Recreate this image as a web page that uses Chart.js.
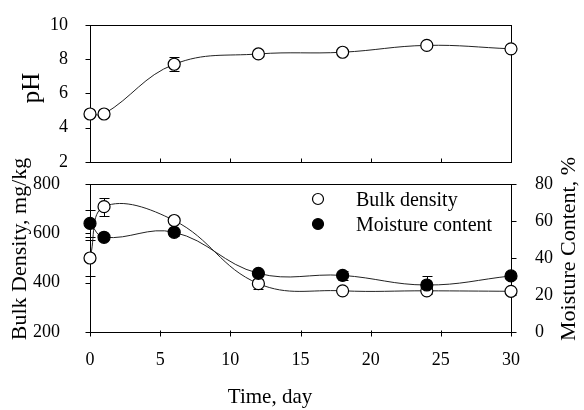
<!DOCTYPE html>
<html>
<head>
<meta charset="utf-8">
<script src="https://cdn.jsdelivr.net/npm/chart.js@4.4.1/dist/chart.umd.min.js"></script>
<style>
  html, body { margin: 0; padding: 0; background: #fff; }
  #painel { position: relative; width: 584px; height: 410px; }
  #painel canvas { position: absolute; left: 0; top: 0; }
</style>
</head>
<body>
<div id="painel">
  <canvas id="chartPH" width="584" height="410"></canvas>
  <canvas id="chartBD" width="584" height="410"></canvas>
</div>
<script>
// Dias de amostragem
const dias = [0, 1, 6, 12, 18, 24, 30];
// pH e desvio
const ph = [4.8, 4.8, 7.7, 8.3, 8.4, 8.8, 8.6];
const phErro = [0, 0, 0.4, 0, 0, 0, 0];
// Densidade aparente (mg/kg) e desvio
const densidade = [500, 708, 652, 396, 367, 367, 365];
const densidadeErro = [73, 36, 0, 20, 0, 10, 0];
// Teor de umidade (%) e desvio
const umidade = [58.7, 51.2, 53.9, 31.7, 30.6, 25.4, 30.3];
const umidadeErro = [7.3, 0, 2, 0, 2.5, 5, 0];
// Marcas dos eixos
const ticksTempo = [0, 5, 10, 15, 20, 25, 30];
const ticksPh = [2, 4, 6, 8, 10];
const ticksDensidade = [200, 400, 600, 800];
const ticksUmidade = [0, 20, 40, 60, 80];

Chart.defaults.font.family = "'Liberation Serif', 'Times New Roman', serif";
Chart.defaults.color = '#000';

const pontos = (ys) => dias.map((d, i) => ({ x: d, y: ys[i] }));
const fixarTicks = (lista) => (scale) => {
  scale.ticks = lista.map((v) => ({ value: v }));
};
const fonteTick = { size: 18 };

// Moldura do painel e marcas dos eixos (antes dos pontos)
const molduraPlugin = {
  id: 'moldura',
  beforeDatasetsDraw(chart, args, opts) {
    const { ctx, chartArea: a } = chart;
    const L = Math.round(a.left) + 0.5, R = Math.round(a.right) + 0.5;
    const T = Math.round(a.top) + 0.5, B = Math.round(a.bottom) + 0.5;
    ctx.save();
    ctx.strokeStyle = '#000';
    ctx.lineWidth = 1;
    ctx.strokeRect(L, T, R - L, B - T);
    (opts.marcas || []).forEach((m) => {
      const scale = chart.scales[m.eixo];
      scale.ticks.forEach((t) => {
        const p = Math.round(scale.getPixelForValue(t.value)) + 0.5;
        ctx.beginPath();
        if (scale.isHorizontal()) {
          ctx.moveTo(p, B - m.dentro);
          ctx.lineTo(p, B + m.fora);
        } else if (scale.position === 'left') {
          ctx.moveTo(L - m.fora, p);
          ctx.lineTo(L + m.dentro, p);
        } else {
          ctx.moveTo(R - m.dentro, p);
          ctx.lineTo(R + m.fora, p);
        }
        ctx.stroke();
      });
    });
    ctx.restore();
  }
};

// Barras de erro verticais com base no campo "erros" de cada dataset
const barrasErroPlugin = {
  id: 'barrasErro',
  beforeDatasetsDraw(chart) {
    const ctx = chart.ctx;
    ctx.save();
    ctx.strokeStyle = '#000';
    ctx.lineWidth = 1;
    chart.data.datasets.forEach((ds, i) => {
      if (!ds.erros) return;
      const meta = chart.getDatasetMeta(i);
      const escalaY = chart.scales[meta.yAxisID];
      meta.data.forEach((pt, j) => {
        const e = ds.erros[j];
        if (!e) return;
        const v = ds.data[j].y;
        const y1 = Math.round(escalaY.getPixelForValue(v + e)) + 0.5;
        const y2 = Math.round(escalaY.getPixelForValue(v - e)) + 0.5;
        const x = Math.round(pt.x) + 0.5;
        ctx.beginPath();
        ctx.moveTo(x, y1); ctx.lineTo(x, y2);
        ctx.moveTo(x - 5, y1); ctx.lineTo(x + 5, y1);
        ctx.moveTo(x - 5, y2); ctx.lineTo(x + 5, y2);
        ctx.stroke();
      });
    });
    ctx.restore();
  }
};

// Títulos dos eixos desenhados à mão (o da direita também gira -90°)
const titulosPlugin = {
  id: 'titulos',
  afterDraw(chart, args, opts) {
    const ctx = chart.ctx;
    (opts.textos || []).forEach((t) => {
      ctx.save();
      ctx.font = `${t.tamanho}px 'Liberation Serif', 'Times New Roman', serif`;
      ctx.fillStyle = '#000';
      ctx.textAlign = 'center';
      ctx.textBaseline = 'alphabetic';
      ctx.translate(t.x, t.y);
      if (t.girar) ctx.rotate(-Math.PI / 2);
      ctx.fillText(t.texto, 0, 0);
      ctx.restore();
    });
  }
};

// Legenda dentro da área do gráfico
const legendaPlugin = {
  id: 'legendaInterna',
  afterDraw(chart, args, opts) {
    if (!opts.itens) return;
    const ctx = chart.ctx;
    ctx.save();
    ctx.font = "20px 'Liberation Serif', 'Times New Roman', serif";
    ctx.textBaseline = 'alphabetic';
    ctx.textAlign = 'left';
    opts.itens.forEach((it) => {
      const ds = chart.data.datasets[it.dataset];
      ctx.beginPath();
      ctx.arc(opts.x, it.y, 5.5, 0, Math.PI * 2);
      ctx.fillStyle = ds.pointBackgroundColor;
      ctx.fill();
      ctx.lineWidth = 1.2;
      ctx.strokeStyle = ds.pointBorderColor;
      ctx.stroke();
      ctx.fillStyle = '#000';
      ctx.fillText(ds.label, opts.xTexto, it.y + 6.5);
    });
    ctx.restore();
  }
};

const estiloSerie = (aberto) => ({
  borderColor: '#222',
  borderWidth: 1,
  tension: 0.4,
  clip: false,
  pointRadius: 6,
  pointBackgroundColor: aberto ? '#fff' : '#000',
  pointBorderColor: '#000',
  pointBorderWidth: 1.2
});

const semGrade = { display: false };
const semBorda = { display: false };

// Painel superior: pH
new Chart(document.getElementById('chartPH'), {
  type: 'line',
  data: {
    datasets: [
      Object.assign({ label: 'pH', data: pontos(ph), erros: phErro }, estiloSerie(true))
    ]
  },
  options: {
    responsive: false,
    animation: false,
    events: [],
    layout: { autoPadding: false, padding: { left: 0, top: 15, right: 73, bottom: 248 } },
    plugins: {
      legend: { display: false },
      tooltip: { enabled: false },
      moldura: { marcas: [{ eixo: 'x', dentro: 4, fora: 0 }, { eixo: 'y', dentro: 0, fora: 5 }] },
      titulos: { textos: [{ texto: 'pH', x: 39, y: 88, girar: true, tamanho: 25 }] }
    },
    scales: {
      x: {
        type: 'linear', min: 0, max: 30,
        afterBuildTicks: fixarTicks(ticksTempo),
        afterFit: (s) => { s.height = 0; },
        ticks: { display: false },
        grid: semGrade, border: semBorda
      },
      y: {
        min: 2, max: 10,
        afterBuildTicks: fixarTicks(ticksPh),
        afterFit: (s) => { s.width = 90; },
        ticks: { font: fonteTick, padding: 14 },
        grid: semGrade, border: semBorda
      }
    }
  },
  plugins: [molduraPlugin, barrasErroPlugin, titulosPlugin]
});

// Painel inferior: densidade aparente e teor de umidade
new Chart(document.getElementById('chartBD'), {
  type: 'line',
  data: {
    datasets: [
      Object.assign({ label: 'Bulk density', data: pontos(densidade), erros: densidadeErro, yAxisID: 'y', order: 1 }, estiloSerie(true)),
      Object.assign({ label: 'Moisture content', data: pontos(umidade), erros: umidadeErro, yAxisID: 'y1', order: 0 }, estiloSerie(false))
    ]
  },
  options: {
    responsive: false,
    animation: false,
    events: [],
    layout: { autoPadding: false, padding: { left: 0, top: 184, right: 0, bottom: 0 } },
    plugins: {
      legend: { display: false },
      tooltip: { enabled: false },
      moldura: {
        marcas: [
          { eixo: 'x', dentro: 2, fora: 4 },
          { eixo: 'y', dentro: 0, fora: 5 },
          { eixo: 'y1', dentro: 0, fora: 5 }
        ]
      },
      titulos: {
        textos: [
          { texto: 'Bulk Density, mg/kg', x: 26, y: 249, girar: true, tamanho: 22 },
          { texto: 'Moisture Content, %', x: 575, y: 249, girar: true, tamanho: 22 },
          { texto: 'Time, day', x: 270, y: 403, girar: false, tamanho: 21 }
        ]
      },
      legendaInterna: {
        x: 318, xTexto: 356,
        itens: [{ dataset: 0, y: 199 }, { dataset: 1, y: 224 }]
      }
    },
    scales: {
      x: {
        type: 'linear', min: 0, max: 30,
        afterBuildTicks: fixarTicks(ticksTempo),
        afterFit: (s) => { s.height = 78; },
        ticks: { font: fonteTick, padding: 9 },
        grid: semGrade, border: semBorda
      },
      y: {
        position: 'left', min: 200, max: 800,
        afterBuildTicks: fixarTicks(ticksDensidade),
        afterFit: (s) => { s.width = 90; },
        ticks: { font: fonteTick, padding: 22 },
        grid: semGrade, border: semBorda
      },
      y1: {
        position: 'right', min: 0, max: 80,
        afterBuildTicks: fixarTicks(ticksUmidade),
        afterFit: (s) => { s.width = 73; },
        ticks: { font: fonteTick, padding: 16 },
        grid: semGrade, border: semBorda
      }
    }
  },
  plugins: [molduraPlugin, barrasErroPlugin, titulosPlugin, legendaPlugin]
});
</script>
</body>
</html>
